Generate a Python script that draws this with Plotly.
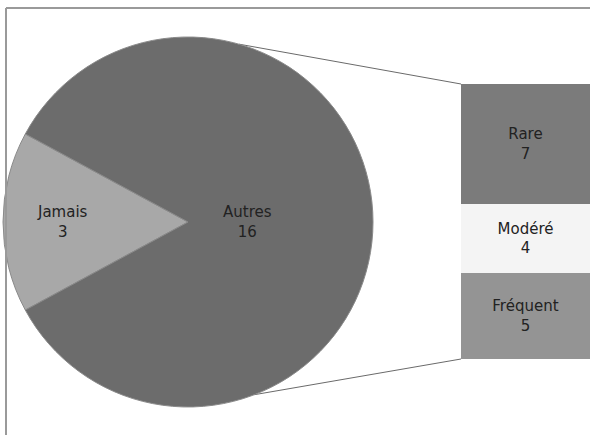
import math
import plotly.graph_objects as go

# ---- data ----
pie_labels = ["Jamais", "Autres"]
pie_values = [3, 16]
bar_labels = ["Fréquent", "Modéré", "Rare"]   # bottom to top
bar_values = [5, 4, 7]

pie_colors = ["#a8a8a8", "#6c6c6c"]
bar_colors = ["#949494", "#f4f4f4", "#7b7b7b"]

W, H = 590, 435
FONT = dict(family="DejaVu Sans, Verdana, sans-serif", size=15, color="#222222")

# pie geometry (pixels)
cx, cy, r = 188, 222, 185
pie_dom_x = [(cx - r) / W, (cx + r) / W]
pie_dom_y = [(H - cy - r) / H, (H - cy + r) / H]

# bar geometry (pixels)
bar_left, bar_top, bar_bottom = 461, 84, 359

total = sum(pie_values)
rotation = 270 - 360 * pie_values[0] / (2 * total)

fig = go.Figure()
fig.add_trace(go.Pie(
    labels=pie_labels, values=pie_values, sort=False, direction="clockwise",
    rotation=rotation,
    marker=dict(colors=pie_colors, line=dict(color="#8a8a8a", width=1)),
    textinfo="none",
    domain=dict(x=pie_dom_x, y=pie_dom_y), showlegend=False, hoverinfo="label+value",
))

# pie labels placed along each slice's bisector
label_radius = [0.68, 0.32]
start = 90 - rotation  # math angle where first slice starts (clockwise direction)
acc = 0
for lab, val, rf in zip(pie_labels, pie_values, label_radius):
    mid = start - 360 * (acc + val / 2) / total
    acc += val
    a = math.radians(mid)
    fig.add_annotation(
        x=(cx + rf * r * math.cos(a)) / W, y=(H - cy + rf * r * math.sin(a)) / H,
        xref="paper", yref="paper", text=f"{lab}<br>{val}", showarrow=False,
        font=FONT, align="center", xanchor="center", yanchor="middle",
    )

for lab, val, col in zip(bar_labels, bar_values, bar_colors):
    fig.add_trace(go.Bar(
        x=[0], y=[val], name=lab, marker=dict(color=col, line=dict(width=0)),
        width=1, text=[f"{lab}<br>{val}"], textposition="inside",
        insidetextanchor="middle", textfont=FONT, showlegend=False,
        xaxis="x", yaxis="y",
    ))

bar_total = sum(bar_values)
fig.update_layout(
    width=W, height=H, margin=dict(l=0, r=0, t=0, b=0),
    paper_bgcolor="white", plot_bgcolor="rgba(0,0,0,0)",
    barmode="stack", uniformtext=dict(mode=False),
    xaxis=dict(domain=[bar_left / W, 1], range=[-0.5, 0.5], visible=False, fixedrange=True),
    yaxis=dict(domain=[(H - bar_bottom) / H, (H - bar_top) / H], range=[0, bar_total],
               visible=False, fixedrange=True),
)

# connector lines from pie edge to bar corners
def on_circle(deg):
    a = math.radians(deg)
    return (cx + r * math.cos(a)) / W, (H - cy + r * math.sin(a)) / H

x0, y0 = on_circle(74)
fig.add_shape(type="line", xref="paper", yref="paper", x0=x0, y0=y0,
              x1=bar_left / W, y1=(H - bar_top) / H, line=dict(color="#6a6a6a", width=1), layer="below")
x0, y0 = on_circle(-69)
fig.add_shape(type="line", xref="paper", yref="paper", x0=x0, y0=y0,
              x1=bar_left / W, y1=(H - bar_bottom) / H, line=dict(color="#6a6a6a", width=1), layer="below")

# outer frame (top and left edges visible)
fig.add_shape(type="line", xref="paper", yref="paper", x0=6 / W, y0=(H - 8) / H, x1=1, y1=(H - 8) / H,
              line=dict(color="#9a9a9a", width=2))
fig.add_shape(type="line", xref="paper", yref="paper", x0=6 / W, y0=(H - 8) / H, x1=6 / W, y1=0,
              line=dict(color="#9a9a9a", width=2))

fig.write_html("out.html", config=dict(displayModeBar=False),
               post_script="document.body.style.margin='0';document.body.style.overflow='hidden';")
